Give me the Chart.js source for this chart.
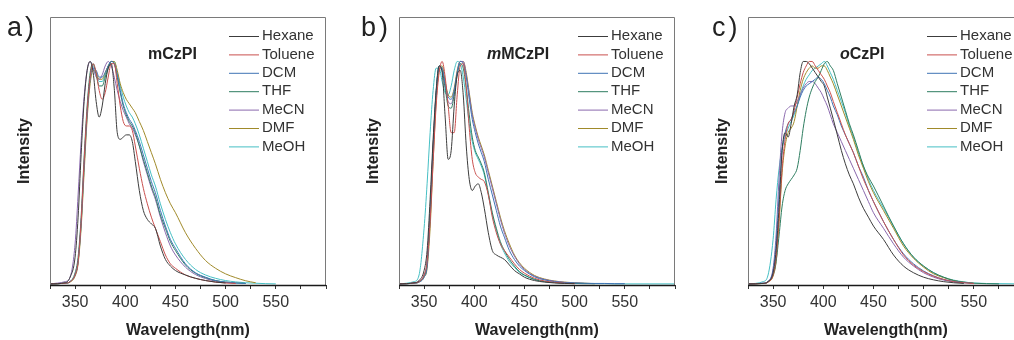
<!DOCTYPE html>
<html>
<head>
<meta charset="utf-8">
<title>Emission spectra in solvents</title>
<script src="https://cdn.jsdelivr.net/npm/chart.js@4.4.1/dist/chart.umd.min.js"></script>
<style>
  html, body { margin: 0; padding: 0; background: #fff; }
  body { width: 1014px; height: 340px; overflow: hidden; position: relative; }
  .panel { position: absolute; top: 0; width: 340px; height: 340px; }
</style>
</head>
<body>
<div class="panel" style="left:0px"><canvas id="chart-a" width="340" height="340"></canvas></div>
<div class="panel" style="left:349px"><canvas id="chart-b" width="340" height="340"></canvas></div>
<div class="panel" style="left:698px"><canvas id="chart-c" width="340" height="340"></canvas></div>
<script>
// shared wavelength grid (nm), denser around the peaks
var wavelength = [325, 340, 345, 350, 353, 356, 359, 362, 365, 368, 371, 374, 377, 380, 383,
                  386, 389, 392, 395, 398, 401, 404, 407, 410, 414, 418, 422, 426, 430, 435,
                  440, 445, 450, 460, 470, 480, 490, 500, 510, 520, 530, 540, 550, 575, 600];
var solvents = ['Hexane', 'Toluene', 'DCM', 'THF', 'MeCN', 'DMF', 'MeOH'];
var solventColors = ['#3c3c3c', '#c9504e', '#3f74b5', '#2e7d60', '#8a68ad', '#a08a2a', '#45bfc4'];
var xTicks = [350, 400, 450, 500, 550];

// normalised intensity, mCzPI
var hexaneA = [0, 0.005, 0.03, 0.12, 0.3, 0.58, 0.82, 0.96, 1.0,
  0.95, 0.82, 0.75, 0.8, 0.9, 0.97, 0.99, 0.88, 0.68, 0.65, 0.66, 0.67, 0.67, 0.64, 0.55,
  0.42, 0.33, 0.29, 0.27, 0.25, 0.17, 0.11, 0.08, 0.06, 0.04, 0.025, 0.015, 0.008, 0.004];
var tolueneA = [0, 0.003, 0.01, 0.04, 0.1, 0.28, 0.55, 0.78, 0.93,
  0.99, 0.95, 0.87, 0.83, 0.86, 0.93, 0.99, 0.99, 0.9, 0.8, 0.73, 0.71, 0.71, 0.69, 0.62,
  0.52, 0.43, 0.36, 0.3, 0.25, 0.19, 0.13, 0.09, 0.07, 0.04, 0.025, 0.015, 0.008, 0.004, 0.002];
var dcmA = [0, 0.003, 0.01, 0.04, 0.1, 0.27, 0.53, 0.76, 0.92,
  0.97, 0.96, 0.93, 0.93, 0.95, 0.98, 1.0, 0.99, 0.94, 0.87, 0.81, 0.77, 0.74, 0.72, 0.69,
  0.64, 0.58, 0.52, 0.46, 0.41, 0.33, 0.26, 0.2, 0.16, 0.09, 0.05, 0.03, 0.015, 0.008, 0.004, 0.002];
var thfA = [0, 0.003, 0.01, 0.05, 0.12, 0.3, 0.57, 0.8, 0.95,
  0.99, 0.94, 0.89, 0.89, 0.93, 0.97, 1.0, 0.99, 0.93, 0.86, 0.8, 0.76, 0.73, 0.71, 0.68,
  0.62, 0.56, 0.5, 0.44, 0.39, 0.31, 0.25, 0.19, 0.15, 0.085, 0.048, 0.028, 0.015, 0.008, 0.004, 0.002];
var mecnA = [0, 0.01, 0.03, 0.18, 0.4, 0.64, 0.84, 0.96, 1.0,
  0.97, 0.93, 0.92, 0.94, 0.98, 1.0, 0.98, 0.93, 0.87, 0.82, 0.78, 0.75, 0.72, 0.7, 0.67,
  0.62, 0.55, 0.49, 0.43, 0.38, 0.3, 0.23, 0.17, 0.13, 0.075, 0.042, 0.024, 0.012, 0.006, 0.003];
var dmfA = [0, 0.003, 0.008, 0.035, 0.09, 0.25, 0.5, 0.74, 0.9,
  0.96, 0.95, 0.92, 0.92, 0.95, 0.98, 1.0, 1.0, 0.96, 0.9, 0.86, 0.83, 0.81, 0.79, 0.77,
  0.73, 0.69, 0.64, 0.59, 0.54, 0.47, 0.41, 0.36, 0.32, 0.23, 0.16, 0.105, 0.07, 0.045, 0.028, 0.014, 0.005];
var meohA = [0, 0.003, 0.01, 0.04, 0.1, 0.27, 0.53, 0.77, 0.93,
  0.98, 0.95, 0.91, 0.91, 0.94, 0.98, 1.0, 1.0, 0.95, 0.89, 0.84, 0.8, 0.77, 0.75, 0.72,
  0.67, 0.61, 0.55, 0.49, 0.44, 0.36, 0.29, 0.23, 0.18, 0.11, 0.065, 0.04, 0.025, 0.015, 0.009, 0.005, 0.003, 0.001, 0];

// normalised intensity, mMCzPI
var hexaneB = [0, 0.005, 0.015, 0.06, 0.15, 0.38, 0.65, 0.87, 0.98,
  0.95, 0.75, 0.56, 0.6, 0.8, 0.94, 0.96, 0.85, 0.62, 0.47, 0.42, 0.44, 0.45, 0.41, 0.34,
  0.23, 0.15, 0.13, 0.12, 0.11, 0.085, 0.06, 0.045, 0.03, 0.015, 0.008, 0.004, 0.002, 0.001];
var tolueneB = [0, 0.004, 0.01, 0.04, 0.1, 0.28, 0.55, 0.8, 0.95,
  1.0, 0.93, 0.8, 0.68, 0.68, 0.85, 0.98, 0.99, 0.88, 0.7, 0.56, 0.5, 0.48, 0.47, 0.46,
  0.4, 0.3, 0.23, 0.18, 0.15, 0.12, 0.09, 0.065, 0.048, 0.025, 0.013, 0.007, 0.003, 0.001];
var dcmB = [0, 0.003, 0.008, 0.03, 0.08, 0.3, 0.6, 0.85, 0.98,
  0.97, 0.9, 0.84, 0.83, 0.87, 0.95, 1.0, 0.99, 0.93, 0.83, 0.74, 0.68, 0.63, 0.59, 0.55,
  0.47, 0.4, 0.33, 0.26, 0.21, 0.15, 0.11, 0.08, 0.06, 0.032, 0.018, 0.01, 0.006, 0.004, 0.003, 0.002, 0.002, 0.001, 0.001];
var thfB = [0, 0.003, 0.01, 0.035, 0.09, 0.32, 0.62, 0.86, 0.98,
  0.96, 0.88, 0.8, 0.79, 0.85, 0.94, 0.99, 0.97, 0.88, 0.76, 0.66, 0.6, 0.57, 0.54, 0.5,
  0.41, 0.32, 0.25, 0.19, 0.15, 0.11, 0.08, 0.055, 0.04, 0.02, 0.01, 0.006, 0.003, 0.002, 0.001, 0.001];
var mecnB = [0, 0.004, 0.012, 0.04, 0.1, 0.33, 0.62, 0.86, 0.97,
  0.96, 0.89, 0.82, 0.81, 0.86, 0.95, 1.0, 1.0, 0.94, 0.85, 0.76, 0.7, 0.65, 0.61, 0.57,
  0.5, 0.43, 0.36, 0.29, 0.23, 0.17, 0.125, 0.09, 0.065, 0.035, 0.02, 0.012, 0.007, 0.004, 0.002];
var dmfB = [0, 0.003, 0.008, 0.03, 0.07, 0.25, 0.55, 0.82, 0.96,
  0.98, 0.91, 0.85, 0.84, 0.88, 0.96, 1.0, 1.0, 0.95, 0.86, 0.77, 0.71, 0.66, 0.62, 0.58,
  0.51, 0.44, 0.37, 0.3, 0.24, 0.18, 0.13, 0.095, 0.07, 0.038, 0.022, 0.013, 0.008, 0.005, 0.003, 0.001];
var meohB = [0, 0.01, 0.04, 0.25, 0.45, 0.68, 0.87, 0.97, 0.97,
  0.91, 0.86, 0.85, 0.89, 0.96, 1.0, 0.99, 0.93, 0.83, 0.72, 0.64, 0.59, 0.56, 0.53, 0.49,
  0.4, 0.31, 0.24, 0.18, 0.14, 0.1, 0.075, 0.052, 0.038, 0.02, 0.011, 0.006, 0.004, 0.003, 0.002, 0.001, 0.001, 0, 0, 0, 0];

// normalised intensity, oCzPI
var hexaneC = [0, 0.002, 0.01, 0.05, 0.15, 0.35, 0.6, 0.68, 0.66,
  0.72, 0.8, 0.85, 0.95, 1.0, 1.0, 0.99, 0.97, 0.95, 0.93, 0.91, 0.89, 0.84, 0.79, 0.74,
  0.67, 0.6, 0.54, 0.49, 0.45, 0.39, 0.34, 0.3, 0.26, 0.2, 0.13, 0.08, 0.05, 0.03, 0.018, 0.01, 0.005, 0.002];
var tolueneC = [0, 0.002, 0.008, 0.04, 0.12, 0.3, 0.52, 0.65, 0.72,
  0.74, 0.78, 0.84, 0.9, 0.95, 0.98, 1.0, 1.0, 0.98, 0.96, 0.94, 0.92, 0.89, 0.86, 0.82,
  0.77, 0.72, 0.67, 0.63, 0.59, 0.53, 0.47, 0.42, 0.37, 0.28, 0.2, 0.13, 0.085, 0.055, 0.034, 0.02, 0.01, 0.005, 0.002];
var dcmC = [0, 0.003, 0.01, 0.06, 0.18, 0.4, 0.6, 0.68, 0.72,
  0.74, 0.77, 0.8, 0.84, 0.87, 0.89, 0.9, 0.91, 0.92, 0.93, 0.92, 0.9, 0.87, 0.84, 0.8,
  0.76, 0.71, 0.67, 0.63, 0.59, 0.53, 0.48, 0.42, 0.37, 0.28, 0.2, 0.135, 0.09, 0.058, 0.036, 0.02, 0.011, 0.005, 0.002];
var thfC = [0, 0.002, 0.01, 0.04, 0.1, 0.22, 0.35, 0.42, 0.45,
  0.47, 0.49, 0.52, 0.6, 0.7, 0.78, 0.84, 0.88, 0.91, 0.93, 0.96, 0.99, 1.0, 0.98, 0.96,
  0.9, 0.84, 0.78, 0.72, 0.67, 0.6, 0.53, 0.48, 0.44, 0.35, 0.26, 0.18, 0.12, 0.08, 0.05, 0.03, 0.015, 0.008, 0.003, 0];
var mecnC = [0, 0.003, 0.012, 0.07, 0.22, 0.48, 0.68, 0.77, 0.79,
  0.8, 0.8, 0.82, 0.85, 0.88, 0.9, 0.91, 0.91, 0.9, 0.88, 0.86, 0.83, 0.8, 0.76, 0.72,
  0.68, 0.64, 0.6, 0.56, 0.52, 0.47, 0.42, 0.37, 0.32, 0.25, 0.18, 0.12, 0.08, 0.05, 0.03, 0.017, 0.009, 0.004];
var dmfC = [0, 0.002, 0.008, 0.035, 0.1, 0.28, 0.5, 0.62, 0.68,
  0.7, 0.73, 0.8, 0.87, 0.92, 0.95, 0.97, 0.98, 0.97, 0.97, 0.98, 0.98, 0.96, 0.93, 0.9,
  0.85, 0.8, 0.75, 0.7, 0.65, 0.58, 0.52, 0.46, 0.41, 0.33, 0.25, 0.17, 0.115, 0.075, 0.045, 0.028, 0.015, 0.007, 0.003];
var meohC = [0, 0.01, 0.04, 0.2, 0.38, 0.52, 0.61, 0.66, 0.7,
  0.73, 0.76, 0.8, 0.85, 0.89, 0.92, 0.94, 0.96, 0.97, 0.98, 0.99, 1.0, 0.98, 0.95, 0.92,
  0.87, 0.82, 0.77, 0.71, 0.66, 0.59, 0.53, 0.47, 0.42, 0.34, 0.26, 0.18, 0.12, 0.08, 0.05, 0.03, 0.017, 0.009, 0.004, 0.001, 0];

var FONT = '"Liberation Sans", Arial, sans-serif';
Chart.defaults.font.family = FONT;

// frame, solvent key, compound name and panel letter
var panelDecor = {
  id: 'panelDecor',
  afterDraw: function (chart, args, opts) {
    var ctx = chart.ctx, a = chart.chartArea;
    ctx.save();
    ctx.lineWidth = 1;
    ctx.strokeStyle = '#7a7a7a';
    ctx.beginPath();
    ctx.moveTo(a.left + 0.5, a.bottom);
    ctx.lineTo(a.left + 0.5, a.top + 0.5);
    ctx.lineTo(a.right - 0.5, a.top + 0.5);
    ctx.lineTo(a.right - 0.5, a.bottom);
    ctx.stroke();
    ctx.strokeStyle = '#1a1a1a';
    ctx.lineWidth = 1.5;
    ctx.beginPath();
    ctx.moveTo(a.left, a.bottom + 0.5);
    ctx.lineTo(a.right, a.bottom + 0.5);
    ctx.stroke();

    ctx.font = '15px ' + FONT;
    ctx.textBaseline = 'middle';
    chart.data.datasets.forEach(function (ds, i) {
      var y = a.top + 19 + i * 18.4;
      ctx.strokeStyle = ds.borderColor;
      ctx.lineWidth = 1;
      ctx.beginPath();
      ctx.moveTo(a.left + 179, y + 0.5);
      ctx.lineTo(a.left + 209, y + 0.5);
      ctx.stroke();
      ctx.fillStyle = '#333';
      ctx.fillText(ds.label, a.left + 212, y);
    });

    ctx.textBaseline = 'alphabetic';
    ctx.fillStyle = '#222';
    var x = a.left + opts.nameX;
    opts.name.forEach(function (part) {
      ctx.font = (part[1] ? 'italic ' : '') + 'bold 16px ' + FONT;
      ctx.fillText(part[0], x, 58.5);
      x += ctx.measureText(part[0]).width;
    });

    // letter and closing bracket set a little apart
    ctx.font = '27px ' + FONT;
    ctx.fillText(opts.letter, opts.letterX, 36);
    ctx.fillText(')', opts.letterX + ctx.measureText(opts.letter).width + 3, 36);
    ctx.restore();
  }
};

function spectrum(values) {
  return values.map(function (v, i) { return {x: wavelength[i], y: v}; });
}

function makeChart(id, series, decor) {
  return new Chart(document.getElementById(id), {
    type: 'line',
    data: {
      datasets: series.map(function (s, i) {
        return {
          label: solvents[i],
          data: spectrum(s),
          borderColor: solventColors[i],
          backgroundColor: solventColors[i],
          borderWidth: 1,
          pointRadius: 0,
          fill: false,
          cubicInterpolationMode: 'monotone'
        };
      })
    },
    options: {
      responsive: false,
      animation: false,
      layout: {padding: {top: 17, right: 14, left: 0, bottom: 0}},
      plugins: {legend: {display: false}, tooltip: {enabled: false}, panelDecor: decor},
      scales: {
        x: {
          type: 'linear', min: 325, max: 600,
          afterFit: function (scale) { scale.height = 55; },
          ticks: {
            stepSize: 25, autoSkip: false, maxRotation: 0, padding: 4,
            color: '#333', font: {size: 16},
            callback: function (v) { return xTicks.indexOf(v) >= 0 ? String(v) : ''; }
          },
          grid: {drawOnChartArea: false, drawTicks: true, tickLength: 4, color: '#333'},
          border: {display: false},
          title: {display: true, text: 'Wavelength(nm)', color: '#222',
                  font: {size: 16, weight: 'bold'}, padding: {top: 0, bottom: 0}}
        },
        y: {
          min: -0.005, max: 1.2,
          afterFit: function (scale) { scale.width = 50; },
          ticks: {display: false},
          grid: {display: false},
          border: {display: false},
          title: {display: true, text: 'Intensity', color: '#222',
                  font: {size: 16, weight: 'bold'}, padding: {top: 15, bottom: 0}}
        }
      }
    },
    plugins: [panelDecor]
  });
}

makeChart('chart-a', [hexaneA, tolueneA, dcmA, thfA, mecnA, dmfA, meohA],
  {letter: 'a', letterX: 7, nameX: 98, name: [['mCzPI', false]]});
makeChart('chart-b', [hexaneB, tolueneB, dcmB, thfB, mecnB, dmfB, meohB],
  {letter: 'b', letterX: 12, nameX: 88, name: [['m', true], ['MCzPI', false]]});
makeChart('chart-c', [hexaneC, tolueneC, dcmC, thfC, mecnC, dmfC, meohC],
  {letter: 'c', letterX: 14, nameX: 92, name: [['o', true], ['CzPI', false]]});
</script>
</body>
</html>
